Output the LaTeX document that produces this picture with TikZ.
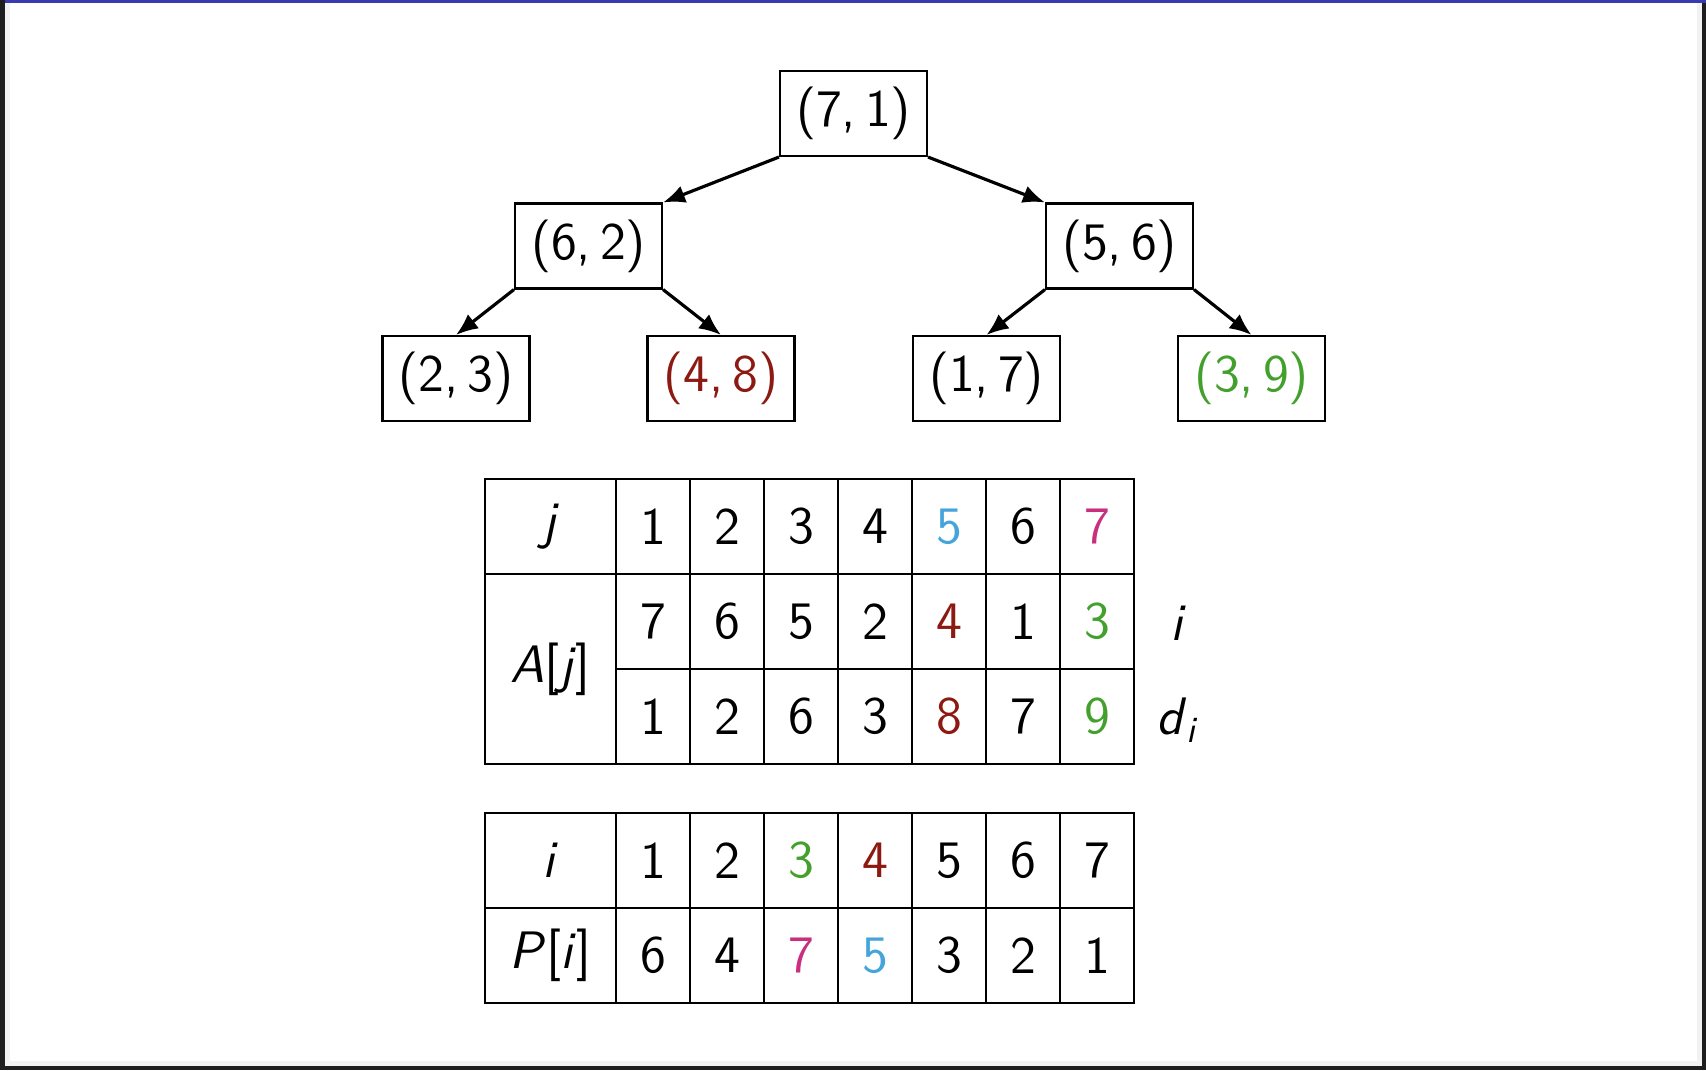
\documentclass[tikz,border=0pt]{standalone}
\usepackage{xcolor}
\definecolor{heapred}{HTML}{8C1A12}
\definecolor{heapgreen}{HTML}{44A02C}
\definecolor{heapblue}{HTML}{45A5DB}
\definecolor{heapmag}{HTML}{C8307E}
\definecolor{framedark}{HTML}{1E1E1E}
\definecolor{framegray}{HTML}{F2F2F2}
\definecolor{frameblue}{HTML}{3A3AB0}
\usepackage{tikz}
\usetikzlibrary{arrows.meta,positioning,calc}

\tikzset{
  heapnode/.style={draw,line width=0.6pt,minimum width=1.47cm,minimum height=0.85cm,inner sep=0pt},
  heapedge/.style={line width=0.9pt,-{Latex[length=2.2mm,width=1.8mm]}},
  cell/.style={draw,line width=0.6pt,minimum width=0.74cm,minimum height=0.95cm,inner sep=0pt},
  labcell/.style={cell,minimum width=1.31cm},
  sidelab/.style={inner sep=0pt}
}

\begin{document}
\begin{tikzpicture}[x=1cm,y=1cm,font=\sffamily\fontsize{15}{18}\selectfont]
\useasboundingbox (0,0) rectangle (17.06,-10.70);
% screen frame
\fill[framegray] (0.05,0) rectangle (0.10,-10.70);
\fill[framegray] (16.97,0) rectangle (17.02,-10.70);
\fill[framegray] (0,-10.61) rectangle (17.06,-10.66);
\fill[framedark] (0,0) rectangle (0.05,-10.70);
\fill[framedark] (17.02,0) rectangle (17.06,-10.70);
\fill[framedark] (0,-10.66) rectangle (17.06,-10.70);
\fill[frameblue] (0.05,0) rectangle (17.06,-0.025);

% heap
\node[heapnode] (r) at (8.535,-1.135) {(7,\,1)};
\node[heapnode] (l) at (5.885,-2.46) {(6,\,2)};
\node[heapnode] (rr) at (11.195,-2.46) {(5,\,6)};
\node[heapnode] (ll) at (4.56,-3.785) {(2,\,3)};
\node[heapnode,text=heapred] (lr) at (7.21,-3.785) {(4,\,8)};
\node[heapnode] (rl) at (9.865,-3.785) {(1,\,7)};
\node[heapnode,text=heapgreen] (rrr) at (12.515,-3.785) {(3,\,9)};
\draw[heapedge] (r.south west) -- (l.north east);
\draw[heapedge] (r.south east) -- (rr.north west);
\draw[heapedge] (l.south west) -- (ll.north);
\draw[heapedge] (l.south east) -- (lr.north);
\draw[heapedge] (rr.south west) -- (rl.north);
\draw[heapedge] (rr.south east) -- (rrr.north);

% array A
\node[labcell] (aj) at (5.505,-5.265) {\textit{j}};
\node[labcell,minimum height=1.90cm] (aa) at (5.505,-6.69) {\textit{A}[\textit{j}]};
\foreach \c/\v [count=\k] in {black/1,black/2,black/3,black/4,heapblue/5,black/6,heapmag/7}
  \node[cell,text=\c] (j-\k) at ({6.16+0.74*(\k-0.5)},-5.265) {\v};
\foreach \c/\v [count=\k] in {black/7,black/6,black/5,black/2,heapred/4,black/1,heapgreen/3}
  \node[cell,text=\c] (i-\k) at ({6.16+0.74*(\k-0.5)},-6.215) {\v};
\foreach \c/\v [count=\k] in {black/1,black/2,black/6,black/3,heapred/8,black/7,heapgreen/9}
  \node[cell,text=\c] (d-\k) at ({6.16+0.74*(\k-0.5)},-7.165) {\v};
\node[sidelab] (ilab) at (11.78,-6.23) {\textit{i}};
\node[sidelab] (dlab) at (11.77,-7.20) {\textit{d}\raisebox{-0.35ex}{\fontsize{10.5}{12}\selectfont\textit{i}}};

% array P
\node[labcell] (pi) at (5.505,-8.605) {\textit{i}};
\node[labcell] (pp) at (5.505,-9.555) {\textit{P}[\textit{i}]};
\foreach \c/\v [count=\k] in {black/1,black/2,heapgreen/3,heapred/4,black/5,black/6,black/7}
  \node[cell,text=\c] (pi-\k) at ({6.16+0.74*(\k-0.5)},-8.605) {\v};
\foreach \c/\v [count=\k] in {black/6,black/4,heapmag/7,heapblue/5,black/3,black/2,black/1}
  \node[cell,text=\c] (pp-\k) at ({6.16+0.74*(\k-0.5)},-9.555) {\v};
\end{tikzpicture}
\end{document}
